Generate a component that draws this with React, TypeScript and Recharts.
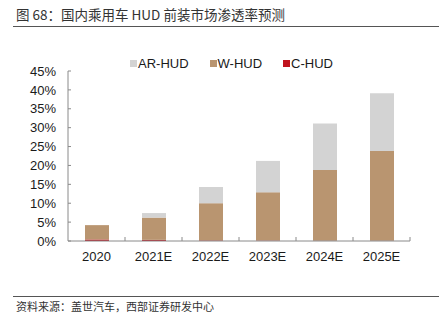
import { BarChart, Bar, XAxis, YAxis } from 'recharts'

const years = ['2020', '2021E', '2022E', '2023E', '2024E', '2025E']
const cHud = [0.4, 0.3, 0.15, 0.1, 0.05, 0.05]
const wHud = [3.8, 5.9, 9.85, 12.8, 18.75, 23.75]
const arHud = [0, 1.2, 4.3, 8.3, 12.3, 15.3]
const yTicks = [0, 5, 10, 15, 20, 25, 30, 35, 40, 45]

const series = [
  { key: 'C-HUD', values: cHud, color: '#c0131e' },
  { key: 'W-HUD', values: wHud, color: '#b99570' },
  { key: 'AR-HUD', values: arHud, color: '#d3d3d3' },
]

const data = years.map((year, i) => {
  const row: any = { year }
  series.forEach(s => { row[s.key] = s.values[i] })
  return row
})

const FONT = '"Liberation Sans", Arial, sans-serif'
const CJK = '"Noto Sans CJK SC", sans-serif'
const AXIS = '#8a8a8a'
const PLOT_LEFT = 68
const PLOT_RIGHT = 410
const AXIS_Y = 241
const BAND = (PLOT_RIGHT - PLOT_LEFT) / years.length

function XTick(props: any) {
  const { x, payload } = props
  return (
    <g>
      <line x1={x + BAND / 2} x2={x + BAND / 2} y1={AXIS_Y} y2={AXIS_Y - 4} stroke={AXIS} />
      <text x={x} y={AXIS_Y + 20} textAnchor="middle" fontSize={13} fontFamily={FONT} fill="#1a1a1a">
        {payload.value}
      </text>
    </g>
  )
}

export default function App() {
  const legend = [...series].reverse()
  return (
    <div style={{ position: 'relative', width: 442, height: 323, background: '#fff', overflow: 'hidden' }}>
      <style>{`body{margin:0}`}</style>
      <div style={{
        position: 'absolute', left: 16, top: 4, fontFamily: CJK, fontSize: 13.5,
        color: '#333', lineHeight: '20px', whiteSpace: 'nowrap',
      }}>图 68：国内乘用车 HUD 前装市场渗透率预测</div>
      <div style={{ position: 'absolute', left: 13, width: 426, top: 26, height: 1, background: '#555' }} />

      <div style={{ position: 'absolute', left: 130, top: 56, display: 'flex', gap: 21, fontFamily: FONT, fontSize: 13, color: '#1a1a1a' }}>
        {legend.map(s => (
          <div key={s.key} style={{ display: 'flex', alignItems: 'center', gap: 1 }}>
            <span style={{ width: 7, height: 7, background: s.color, display: 'inline-block' }} />
            <span>{s.key}</span>
          </div>
        ))}
      </div>

      <div style={{ position: 'absolute', left: 0, top: 0 }}>
        <BarChart width={442} height={323} data={data} margin={{ top: 71, right: 32, bottom: 52, left: 0 }}>
          <XAxis dataKey="year" height={30} axisLine={{ stroke: AXIS }} tickLine={false} tick={<XTick />} interval={0} />
          <YAxis
            width={68}
            domain={[0, 45]}
            ticks={yTicks}
            interval={0}
            tickFormatter={v => `${v}%`}
            axisLine={{ stroke: AXIS }}
            tickLine={{ stroke: AXIS }}
            tickSize={-3}
            tickMargin={15}
            tick={{ fontSize: 13, fontFamily: FONT, fill: '#1a1a1a' }}
          />
          {series.map(s => (
            <Bar key={s.key} dataKey={s.key} stackId="a" fill={s.color} barSize={24} isAnimationActive={false} />
          ))}
        </BarChart>
      </div>

      <div style={{ position: 'absolute', left: 13, width: 426, top: 296, height: 1, background: '#555' }} />
      <div style={{
        position: 'absolute', left: 16, top: 298, fontFamily: CJK, fontSize: 11,
        color: '#333', lineHeight: '16px', whiteSpace: 'nowrap',
      }}>资料来源：盖世汽车，西部证券研发中心</div>
    </div>
  )
}
